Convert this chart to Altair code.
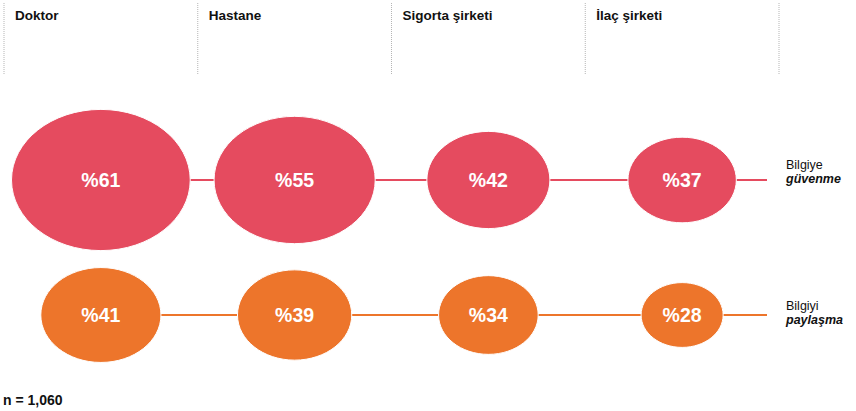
import altair as alt
import pandas as pd

# ---- data ----
columns = ["Doktor", "Hastane", "Sigorta şirketi", "İlaç şirketi"]
trust_values = [61, 55, 42, 37]
share_values = [41, 39, 34, 28]
row_keys = ["trust", "share"]
row_line1 = ["Bilgiye", "Bilgiyi"]
row_line2 = ["güvenme", "paylaşma"]
row_colors = ["#E54B5F", "#ED752B"]
note = "n = 1,060"

points = pd.DataFrame({
    "col": columns * 2,
    "row": ["trust"] * len(columns) + ["share"] * len(columns),
    "value": trust_values + share_values,
})
points["label"] = "%" + points["value"].astype(str)

rows = pd.DataFrame({
    "row": row_keys,
    "first": [columns[0]] * len(row_keys),
    "line1": row_line1,
    "line2": row_line2,
})
heads = pd.DataFrame({"col": columns})

# ---- styling ----
FONT = "Liberation Sans"
B = 0.79
K = 0.5523
ELLIPSE = (
    f"M-1,0C-1,{-K*B:.4f},{-K},{-B},0,{-B}"
    f"C{K},{-B},1,{-K*B:.4f},1,0"
    f"C1,{K*B:.4f},{K},{B},0,{B}"
    f"C{-K},{B},-1,{K*B:.4f},-1,0Z"
)

x_scale = alt.Scale(type="band", domain=columns, paddingInner=0, paddingOuter=0)
y_scale = alt.Scale(type="point", domain=row_keys, range=[180, 315], padding=0)
color_scale = alt.Scale(domain=row_keys, range=row_colors)

base_pts = alt.Chart(points)

ellipses = base_pts.mark_point(
    shape=ELLIPSE, filled=True, opacity=1, stroke="white", strokeWidth=1
).encode(
    x=alt.X("col:N", scale=x_scale, axis=None),
    y=alt.Y("row:N", scale=y_scale, axis=None),
    size=alt.Size("value:Q", scale=alt.Scale(type="pow", exponent=2, domain=[0, 100], range=[0, 85849]), legend=None),
    color=alt.Color("row:N", scale=color_scale, legend=None),
)

pct = base_pts.mark_text(
    color="white", font=FONT, fontWeight="bold", fontSize=19.5, baseline="alphabetic", dy=7
).encode(
    x=alt.X("col:N", scale=x_scale, axis=None),
    y=alt.Y("row:N", scale=y_scale, axis=None),
    text="label:N",
)

lines = alt.Chart(rows).mark_rule(strokeWidth=2).encode(
    x=alt.X("first:N", scale=x_scale, axis=None, bandPosition=0.5),
    x2=alt.value(763),
    y=alt.Y("row:N", scale=y_scale, axis=None),
    color=alt.Color("row:N", scale=color_scale, legend=None),
)

dividers = alt.Chart(heads).mark_rule(color="#b5b5b5", strokeWidth=1, strokeDash=[1, 1]).encode(
    x=alt.X("col:N", scale=x_scale, axis=None, bandPosition=0),
    y=alt.value(3),
    y2=alt.value(75),
)
last_divider = alt.Chart(heads).transform_filter(
    alt.datum.col == columns[-1]
).mark_rule(color="#b5b5b5", strokeWidth=1, strokeDash=[1, 1]).encode(
    x=alt.X("col:N", scale=x_scale, axis=None, bandPosition=1),
    y=alt.value(3),
    y2=alt.value(75),
)

headers = alt.Chart(heads).mark_text(
    align="left", baseline="alphabetic", dx=11, font=FONT, fontWeight="bold", fontSize=13.5, color="#111111"
).encode(
    x=alt.X("col:N", scale=x_scale, axis=None, bandPosition=0),
    y=alt.value(19.5),
    text="col:N",
)

label_layers = []
for key, d1, d2 in [("trust", -11.5, 2.5), ("share", -5.5, 8.5)]:
    sub = alt.Chart(rows).transform_filter(alt.datum.row == key)
    label_layers.append(
        sub.mark_text(align="left", baseline="alphabetic", dy=d1, font=FONT, fontSize=12.5, color="#111111").encode(
            x=alt.value(782), y=alt.Y("row:N", scale=y_scale, axis=None), text="line1:N")
    )
    label_layers.append(
        sub.mark_text(align="left", baseline="alphabetic", dy=d2, font=FONT, fontSize=12.5,
                      fontWeight="bold", fontStyle="italic", color="#111111").encode(
            x=alt.value(782), y=alt.Y("row:N", scale=y_scale, axis=None), text="line2:N")
    )

note_layer = alt.Chart(pd.DataFrame({"t": [note]})).mark_text(
    align="left", baseline="alphabetic", font=FONT, fontSize=14, fontWeight="bold", color="#111111"
).encode(x=alt.value(-1), y=alt.value(404.5), text="t:N")

chart = alt.layer(
    dividers, last_divider, headers, lines, ellipses, pct, *label_layers, note_layer
).properties(
    width=775, height=411,
    padding={"left": 4, "top": 0, "right": 77, "bottom": 0},
    autosize="none",
).configure_view(stroke=None)

chart.save("out.html", embed_options={"renderer": "svg", "actions": False})
